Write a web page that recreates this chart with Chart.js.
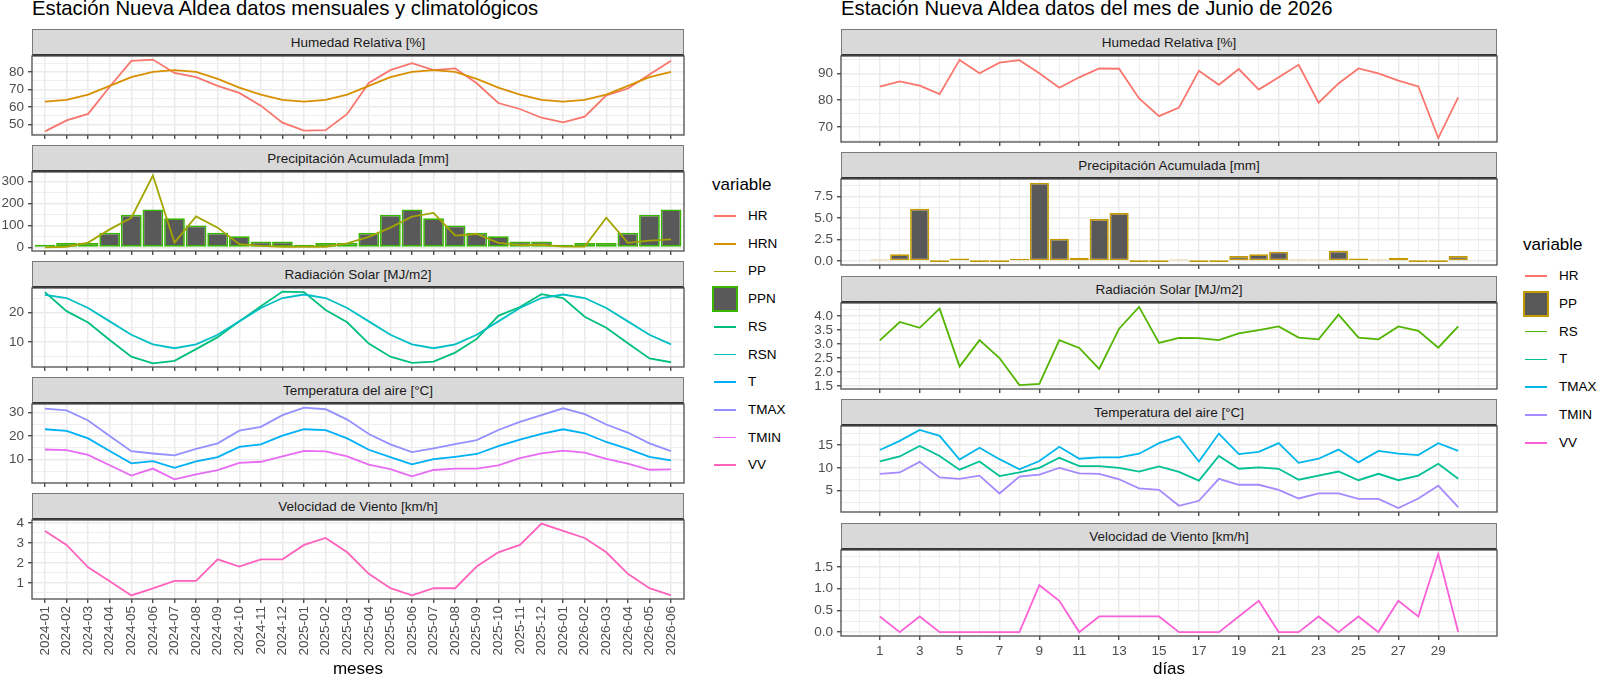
<!DOCTYPE html>
<html>
<head>
<meta charset="utf-8">
<script src="https://cdn.jsdelivr.net/npm/chart.js@4.4.1/dist/chart.umd.min.js"></script>
<style>
  body { margin: 0; width: 1600px; height: 676px; background: #fff; position: relative; overflow: hidden;
         font-family: "Liberation Sans", Arial, sans-serif; }
  canvas { position: absolute; }
  .strip { position: absolute; background: #d9d9d9; border: 1px solid #7a7a7a; border-bottom: 2px solid #333;
           box-sizing: border-box; font-size: 13.5px; color: #1a1a1a; display: flex; align-items: center; justify-content: center; }
  .title { position: absolute; font-size: 20.3px; color: #000; white-space: nowrap; line-height: 20px; }
  .axt { position: absolute; font-size: 17px; color: #000; transform: translateX(-50%); line-height: 17px; }
  .legt { position: absolute; font-size: 17px; color: #000; line-height: 17px; }
  .legl { position: absolute; font-size: 13.5px; color: #000; line-height: 14px; }
  .key { position: absolute; }
</style>
</head>
<body>
<script>
// ---- monthly / climatological data (left) ----
const meses = ['2024-01','2024-02','2024-03','2024-04','2024-05','2024-06','2024-07','2024-08','2024-09','2024-10','2024-11','2024-12',
               '2025-01','2025-02','2025-03','2025-04','2025-05','2025-06','2025-07','2025-08','2025-09','2025-10','2025-11','2025-12',
               '2026-01','2026-02','2026-03','2026-04','2026-05','2026-06'];
const hr   = [46, 52.3, 56, 71.5, 86.3, 87, 79.4, 77, 72, 68, 60.7, 51, 46.4, 46.7, 56, 73.7, 81, 85, 81, 82, 73.5, 62.2, 58.8, 53.8, 51.2, 54.4, 66.6, 70.5, 78.5, 86.3];
const hrn  = [63, 64, 67, 72, 77, 80, 81, 80, 76, 71, 67, 64, 63, 64, 67, 72, 77, 80, 81, 80, 76, 71, 67, 64, 63, 64, 67, 72, 77, 80];
const pp   = [0, 3, 22, 82, 135, 327, 22, 141, 90, 15, 7, 3, 3, 3, 18, 48, 90, 140, 157, 54, 61, 21, 10, 12, 4, 4, 135, 21, 31, 37];
const ppn  = [12, 20, 20, 67, 148, 173, 133, 100, 67, 51, 27, 27, 12, 20, 20, 67, 148, 173, 133, 100, 67, 51, 27, 27, 12, 20, 20, 67, 148, 173];
const rs   = [27, 20.5, 16.6, 10.6, 4.9, 2.6, 3.5, 7.5, 11.6, 17, 22.2, 27.2, 27, 20.9, 16.7, 9.4, 4.9, 2.8, 3.2, 6.3, 11, 18.9, 21.9, 26.3, 25, 18.6, 14.8, 9.5, 4.3, 3];
const rsn  = [26.1, 25, 21.6, 17, 12.4, 9.1, 7.8, 9.1, 12.4, 17, 21.6, 25, 26.2, 25, 21.6, 17, 12.4, 9.1, 7.8, 9.1, 12.4, 17, 21.6, 25, 26.2, 25, 21.6, 17, 12.4, 9.1];
const t    = [22.9, 22.2, 19, 13.7, 8.4, 9.4, 6.5, 9.3, 11.1, 15.4, 16.5, 20.2, 22.9, 22.5, 19, 14.2, 11.1, 8, 10.2, 11.2, 12.4, 15.7, 18.5, 20.9, 22.9, 21.2, 17.5, 14.6, 11.2, 9.7];
const tmax = [31.7, 30.9, 26.6, 20, 13.6, 12.6, 11.8, 14.6, 16.9, 22.3, 23.9, 28.9, 32.1, 31.4, 27, 20.9, 16.5, 13.2, 14.8, 16.6, 18.3, 22.6, 26, 28.9, 31.8, 29.3, 24.9, 21.5, 16.9, 13.6];
const tmin = [14.3, 14, 12, 7.6, 3.2, 6.2, 1.6, 3.7, 5.5, 8.6, 9.1, 11.4, 13.7, 13.5, 11.4, 7.9, 6, 2.9, 5.6, 6.2, 6.2, 7.6, 10.6, 12.7, 13.8, 13, 10.3, 8.3, 5.7, 5.9];
const vv   = [3.6, 2.9, 1.78, 1.08, 0.37, 0.72, 1.1, 1.1, 2.18, 1.82, 2.18, 2.18, 2.9, 3.25, 2.53, 1.45, 0.73, 0.37, 0.73, 0.73, 1.82, 2.53, 2.9, 3.97, 3.6, 3.25, 2.53, 1.45, 0.73, 0.37];

// ---- daily data, June 2026 (right) ----
const dias   = [1,2,3,4,5,6,7,8,9,10,11,12,13,14,15,16,17,18,19,20,21,22,23,24,25,26,27,28,29,30];
const hrD    = [85, 87, 85.4, 82.2, 95, 90, 94, 94.9, 90, 84.6, 88.5, 91.8, 91.7, 80.6, 74, 77.2, 90.9, 85.7, 91.6, 83.9, 88.5, 93.2, 79, 86.2, 91.8, 90, 87.3, 85.1, 65.8, 81];
const ppD    = [0.15, 0.8, 6.1, 0, 0.3, 0, 0, 0.25, 9.1, 2.6, 0.4, 4.9, 5.6, 0, 0, 0.1, 0, 0, 0.6, 0.8, 1.1, 0.1, 0.1, 1.2, 0.3, 0.1, 0.4, 0, 0, 0.6];
const rsD    = [3.13, 3.79, 3.58, 4.27, 2.19, 3.14, 2.5, 1.53, 1.57, 3.14, 2.86, 2.11, 3.55, 4.33, 3.04, 3.22, 3.21, 3.14, 3.38, 3.5, 3.63, 3.23, 3.17, 4.05, 3.23, 3.17, 3.63, 3.47, 2.87, 3.63];
const tD     = [11.4, 12.5, 14.8, 12.6, 9.6, 11.4, 8.2, 9, 10, 12.2, 10.4, 10.4, 10, 9.2, 10.3, 9.1, 7.2, 12.6, 9.8, 10.1, 9.8, 7.4, 8.3, 9.2, 7.3, 8.7, 7.3, 8.3, 10.9, 7.6];
const tmaxD  = [13.9, 15.9, 18.3, 17, 11.8, 14.4, 11.9, 9.7, 11.5, 14.6, 12, 12.3, 12.3, 13.1, 15.4, 16.9, 11.4, 17.5, 13, 13.5, 15.4, 11.1, 12, 14, 11.2, 13.7, 13.1, 12.8, 15.4, 13.7];
const tminD  = [8.7, 9, 11.3, 7.9, 7.6, 8.3, 4.4, 8.1, 8.5, 10, 8.8, 8.7, 7.5, 5.5, 5.2, 1.7, 2.8, 7.6, 6.3, 6.3, 5.2, 3.3, 4.4, 4.4, 3.2, 3.2, 1.2, 3.3, 6.1, 1.4];
const vvD    = [0.36, 0, 0.36, 0, 0, 0, 0, 0, 1.08, 0.72, 0, 0.36, 0.36, 0.36, 0.36, 0, 0, 0, 0.36, 0.72, 0, 0, 0.36, 0, 0.36, 0, 0.72, 0.36, 1.8, 0];

// ---- tick labels ----
const hrTicksL = ['50', '60', '70', '80'];
const ppTicksL = ['0', '100', '200', '300'];
const rsTicksL = ['10', '20'];
const tTicksL  = ['10', '20', '30'];
const vvTicksL = ['1', '2', '3', '4'];
const hrTicksR = ['70', '80', '90'];
const ppTicksR = ['0.0', '2.5', '5.0', '7.5'];
const rsTicksR = ['1.5', '2.0', '2.5', '3.0', '3.5', '4.0'];
const tTicksR  = ['5', '10', '15'];
const vvTicksR = ['0.0', '0.5', '1.0', '1.5'];
const diasTicks = ['1','3','5','7','9','11','13','15','17','19','21','23','25','27','29'];

const namesL = ['HR', 'HRN', 'PP', 'PPN', 'RS', 'RSN', 'T', 'TMAX', 'TMIN', 'VV'];
const colorsL = ['#F8766D', '#D89000', '#A3A500', '#39B600', '#00BF7D', '#00BFC4', '#00B0F6', '#9590FF', '#E76BF3', '#FF62BC'];
const namesR = ['HR', 'PP', 'RS', 'T', 'TMAX', 'TMIN', 'VV'];
const colorsR = ['#F8766D', '#C49A00', '#53B400', '#00C094', '#00B6EB', '#A58AFF', '#FB61D7'];

Chart.defaults.font.family = '"Liberation Sans", Arial, sans-serif';
Chart.defaults.animation = false;

const PAD = 8;
const LINE_W = 1.8;
const near = (a, b) => Math.abs(a - b) < 1e-9;

const panelBorder = {
  id: 'panelBorder',
  afterDraw(chart) {
    const a = chart.chartArea, ctx = chart.ctx;
    ctx.save();
    ctx.strokeStyle = '#4d4d4d';
    ctx.lineWidth = 1.3;
    ctx.strokeRect(a.left, a.top, a.right - a.left, a.bottom - a.top);
    ctx.restore();
  }
};

function expandRange(arrs, withZero) {
  let lo = Infinity, hi = -Infinity;
  arrs.forEach(a => a.forEach(v => { lo = Math.min(lo, v); hi = Math.max(hi, v); }));
  if (withZero) { lo = Math.min(lo, 0); hi = Math.max(hi, 0); }
  const d = (hi - lo) * 0.05;
  return [lo - d, hi + d];
}

function yAxis(labels, lo, hi, w) {
  const majors = labels.map(Number);
  const step = majors[1] - majors[0];
  const vals = majors.slice();
  for (let v = majors[0] - step / 2; v <= majors[majors.length - 1] + step; v += step) {
    if (v >= lo && v <= hi) vals.push(v);
  }
  vals.sort((a, b) => a - b);
  const isMajor = c => c.tick && majors.some(m => near(m, c.tick.value));
  return {
    type: 'linear', min: lo, max: hi,
    afterBuildTicks: s => { s.ticks = vals.map(v => ({ value: v })); },
    afterFit: s => { s.width = w; s.paddingTop = 0; s.paddingBottom = 0; },
    ticks: {
      autoSkip: false, padding: 4, color: '#4D4D4D', font: { size: 13.5 },
      callback: v => { const k = majors.findIndex(m => near(m, v)); return k < 0 ? '' : labels[k]; }
    },
    grid: {
      color: '#EBEBEB', lineWidth: c => isMajor(c) ? 1.5 : 0.8,
      tickLength: 4, tickWidth: 1.2, tickColor: c => isMajor(c) ? '#333333' : 'rgba(0,0,0,0)'
    },
    border: { display: false }
  };
}

function xAxis(vals, majorLabel, lo, hi, bottom, rotate, h) {
  const isMajor = c => c.tick && majorLabel(c.tick.value) !== '';
  return {
    type: 'linear', min: lo, max: hi, offset: false,
    afterBuildTicks: s => { s.ticks = vals.map(v => ({ value: v })); },
    afterFit: s => { s.height = bottom ? h : 0; s.paddingLeft = 0; s.paddingRight = 0; },
    ticks: {
      display: bottom, autoSkip: false, padding: 3, color: '#4D4D4D', font: { size: 13.5 },
      maxRotation: rotate, minRotation: rotate,
      callback: v => majorLabel(v)
    },
    grid: {
      offset: false, drawTicks: bottom, color: '#EBEBEB', lineWidth: c => isMajor(c) ? 1.5 : 0.8,
      tickLength: 4, tickWidth: 1.2, tickColor: c => isMajor(c) ? '#333333' : 'rgba(0,0,0,0)'
    },
    border: { display: false }
  };
}

function dataset(name, values, color, xs, bar) {
  const pts = values.map((v, i) => ({ x: xs[i], y: v }));
  if (bar) {
    return { type: 'bar', label: name, data: pts, backgroundColor: '#595959', borderColor: color,
             borderWidth: 1.7, borderSkipped: false, barPercentage: 0.96, categoryPercentage: 1,
             minBarLength: 1.7, order: 100 };
  }
  return { type: 'line', label: name, data: pts, borderColor: color, borderWidth: LINE_W,
           pointRadius: 0, tension: 0, fill: false };
}

function addDiv(cls, text, css) {
  const d = document.createElement('div');
  d.className = cls;
  if (text !== null) d.textContent = text;
  Object.assign(d.style, css);
  document.body.appendChild(d);
  return d;
}

function facetChart(f, geo, xs, xCfg) {
  addDiv('strip', f.strip, { left: geo.left + 'px', top: geo.stripTop + 'px', width: (geo.right - geo.left) + 'px', height: geo.stripH + 'px' });
  const c = document.createElement('canvas');
  const extra = f.bottom ? geo.xh : PAD;
  c.width = geo.cw; c.height = PAD + geo.panelH + extra;
  c.style.left = geo.cx + 'px';
  c.style.top = (geo.stripTop + geo.stripH - PAD) + 'px';
  document.body.appendChild(c);
  const arrs = f.series.map(s => s.data);
  const [lo, hi] = expandRange(arrs, f.series.some(s => s.bar));
  const n = f.series.length;
  const datasets = f.series.map((s, i) => {
    const d = dataset(s.name, s.data, s.color, xs, s.bar);
    if (!s.bar) d.order = n - i;
    return d;
  });
  new Chart(c, {
    type: 'line',
    data: { datasets },
    options: {
      responsive: false,
      layout: { padding: { left: 0, right: geo.cx + geo.cw - geo.right, top: PAD, bottom: f.bottom ? 0 : PAD } },
      plugins: { legend: { display: false }, tooltip: { enabled: false } },
      scales: {
        x: xCfg(f.bottom),
        y: yAxis(f.ticks, lo, hi, geo.left - geo.cx)
      }
    },
    plugins: [panelBorder]
  });
}

// ---------- left: monthly ----------
const colL = n => colorsL[namesL.indexOf(n)];
const leftFacets = [
  { strip: 'Humedad Relativa [%]', ticks: hrTicksL, series: [{ name: 'HR', data: hr }, { name: 'HRN', data: hrn }] },
  { strip: 'Precipitación Acumulada [mm]', ticks: ppTicksL, series: [{ name: 'PP', data: pp }, { name: 'PPN', data: ppn, bar: true }] },
  { strip: 'Radiación Solar [MJ/m2]', ticks: rsTicksL, series: [{ name: 'RS', data: rs }, { name: 'RSN', data: rsn }] },
  { strip: 'Temperatura del aire [°C]', ticks: tTicksL, series: [{ name: 'T', data: t }, { name: 'TMAX', data: tmax }, { name: 'TMIN', data: tmin }] },
  { strip: 'Velocidad de Viento [km/h]', ticks: vvTicksL, series: [{ name: 'VV', data: vv }], bottom: true }
];
const xsL = meses.map((m, i) => i + 1);
leftFacets.forEach((f, i) => {
  f.series.forEach(s => { s.color = colL(s.name); });
  const geo = { cx: 0, cw: 690, left: 32, right: 684, stripTop: 29 + i * 116, stripH: 27, panelH: 79, xh: 62 };
  facetChart(f, geo, xsL, bottom => xAxis(xsL, v => meses[Math.round(v) - 1] || '', 0.4, meses.length + 0.6, bottom, 90, 62));
});

// ---------- right: daily ----------
const colR = n => colorsR[namesR.indexOf(n)];
const rightFacets = [
  { strip: 'Humedad Relativa [%]', ticks: hrTicksR, series: [{ name: 'HR', data: hrD }] },
  { strip: 'Precipitación Acumulada [mm]', ticks: ppTicksR, series: [{ name: 'PP', data: ppD, bar: true }] },
  { strip: 'Radiación Solar [MJ/m2]', ticks: rsTicksR, series: [{ name: 'RS', data: rsD }] },
  { strip: 'Temperatura del aire [°C]', ticks: tTicksR, series: [{ name: 'T', data: tD }, { name: 'TMAX', data: tmaxD }, { name: 'TMIN', data: tminD }] },
  { strip: 'Velocidad de Viento [km/h]', ticks: vvTicksR, series: [{ name: 'VV', data: vvD }], bottom: true }
];
const dLo = dias[0] - 0.45, dHi = dias[dias.length - 1] + 0.45, dPad = (dHi - dLo) * 0.05;
const xValsR = [];
for (let d = Math.ceil(dLo - dPad); d <= dHi + dPad; d++) xValsR.push(d);
const stripTopsR = [29, 152, 276, 399, 523];
rightFacets.forEach((f, i) => {
  f.series.forEach(s => { s.color = colR(s.name); });
  const geo = { cx: 800, cw: 703, left: 841, right: 1497, stripTop: stripTopsR[i], stripH: 27, panelH: 86, xh: 24 };
  facetChart(f, geo, dias, bottom => xAxis(xValsR, v => diasTicks.includes(String(v)) ? String(v) : '', dLo - dPad, dHi + dPad, bottom, 0, 24));
});

// ---------- titles ----------
addDiv('title', 'Estación Nueva Aldea datos mensuales y climatológicos', { left: '32px', top: '-2px' });
addDiv('title', 'Estación Nueva Aldea datos del mes de Junio de 2026', { left: '841px', top: '-2px' });
addDiv('axt', 'meses', { left: '358px', top: '660px' });
addDiv('axt', 'días', { left: '1169px', top: '660px' });

// ---------- legends ----------
function legend(x, titleY, y0, step, names, colors, barName) {
  addDiv('legt', 'variable', { left: x + 'px', top: (titleY - 9) + 'px' });
  names.forEach((n, i) => {
    const y = y0 + i * step;
    if (n === barName) {
      addDiv('key', null, { left: x + 'px', top: (y - 13) + 'px', width: '26px', height: '26px', boxSizing: 'border-box',
                            background: '#595959', border: '2px solid ' + colors[i] });
    } else {
      addDiv('key', null, { left: (x + 2) + 'px', top: (y - 0.9) + 'px', width: '22px', height: LINE_W + 'px', background: colors[i] });
    }
    addDiv('legl', n, { left: (x + 36) + 'px', top: (y - 7) + 'px' });
  });
}
legend(712, 185, 216, 27.7, namesL, colorsL, 'PPN');
legend(1523, 245, 276, 27.8, namesR, colorsR, 'PP');
</script>
</body>
</html>
